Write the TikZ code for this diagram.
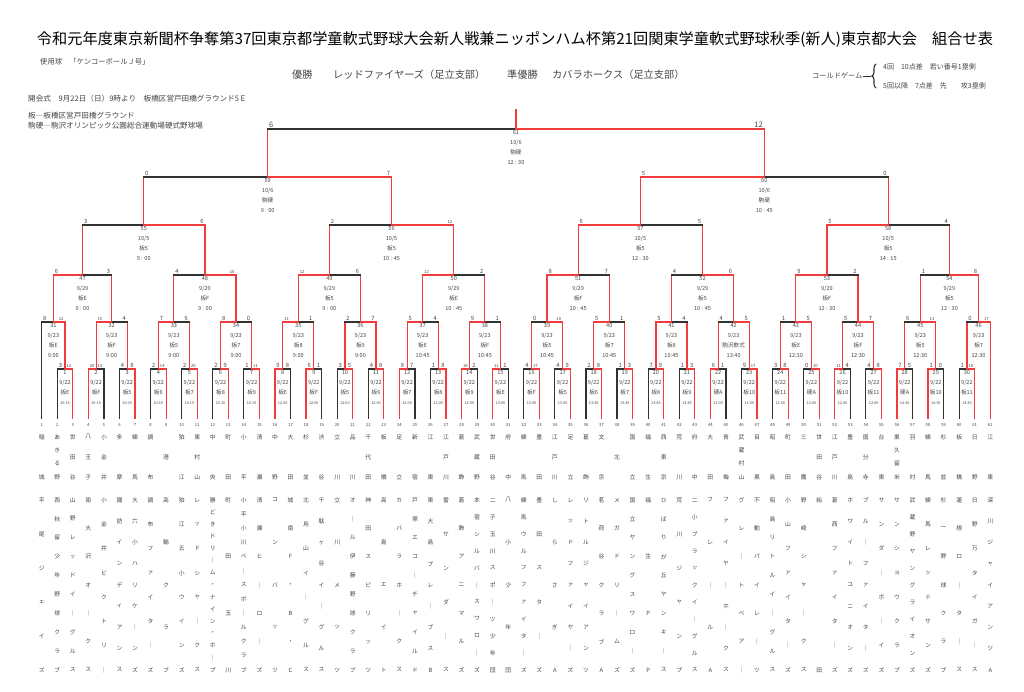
\documentclass[tikz,border=0pt]{standalone}
\usepackage{fontspec}
\setmainfont{Noto Sans CJK JP}
\usetikzlibrary{calc,decorations.pathreplacing}

\definecolor{winred}{RGB}{240,60,60}
\definecolor{loseblk}{RGB}{50,50,50}
\definecolor{txtgray}{RGB}{70,70,70}

\tikzset{
  barline/.style={line width=1.2pt, line cap=rect},
  score/.style={font=\fontsize{5.8}{6}\selectfont, text=txtgray, inner sep=1.3pt},
  info/.style={font=\fontsize{5.6}{10}\selectfont, text=txtgray, align=center, inner sep=0pt},
  tnum/.style={font=\fontsize{4.2}{4.2}\selectfont, text=txtgray, inner sep=0pt},
  tchar/.style={font=\fontsize{5.8}{5.8}\selectfont, text=txtgray, inner sep=0pt},
  note/.style={font=\fontsize{7.6}{8}\selectfont, text=txtgray, anchor=west, inner sep=0pt},
}

\newcommand{\scorefmt}[1]{\ifnum#1>9 {\fontsize{4.2}{4.2}\selectfont#1}\else#1\fi}
\newcommand{\tinytime}[1]{{\fontsize{3.8}{10}\selectfont#1}}

% one game: id, left, right, level, left score, right score, left leaf?, right leaf?
\newcommand{\bout}[8]{%
  \coordinate (m#1) at ($(#2)!0.5!(#3)$);
  \coordinate (g#1) at (m#1 |- 0,#4);
  \ifnum#5>#6\relax\def\lcol{winred}\def\rcol{loseblk}\else\def\lcol{loseblk}\def\rcol{winred}\fi
  \ifnum#7=1\relax\let\lvcol\lcol\else\def\lvcol{winred}\fi
  \ifnum#8=1\relax\let\rvcol\rcol\else\def\rvcol{winred}\fi
  \draw[barline, draw=\lvcol] (#2) -- (#2 |- g#1);
  \draw[barline, draw=\rvcol] (#3) -- (#3 |- g#1);
  \draw[barline, draw=\lcol] (#2 |- g#1) -- (g#1);
  \draw[barline, draw=\rcol] (g#1) -- (#3 |- g#1);
  \node[score, anchor=south west] at (#2 |- g#1) {\scorefmt{#5}};
  \node[score, anchor=south east] at (#3 |- g#1) {\scorefmt{#6}};
}

% one team column: number, district, team name
\newcommand{\team}[3]{%
  \node[tnum] (n#1) at (t#1 |- 0,425) {#1};
  \foreach \ch [count=\idx] in {#2} {\xdef\dcnt{\idx}}
  \foreach \ch [count=\idx] in {#2} {%
    \ifnum\dcnt=1 \pgfmathsetmacro\yy{457}\else\pgfmathsetmacro\yy{437+(\idx-1)*40/(\dcnt-1)}\fi
    \node[tchar] at (t#1 |- 0,\yy) {\ch};}
  \foreach \ch [count=\idx] in {#3} {\xdef\ncnt{\idx}}
  \foreach \ch [count=\idx] in {#3} {%
    \pgfmathsetmacro\yy{500+(\idx-1)*170/(\ncnt-1)}
    \node[tchar] at (t#1 |- 0,\yy) {\ch};}
}

\begin{document}
\begin{tikzpicture}[x=1pt,y=-1pt]
  \fill[white] (0,0) rectangle (1024,692);
  \useasboundingbox (0,0) rectangle (1024,692);

  % header
  \node[font=\fontsize{15.2}{18}\selectfont] (title) at (515,40)
    {令和元年度東京新聞杯争奪第37回東京都学童軟式野球大会新人戦兼ニッポンハム杯第21回関東学童軟式野球秋季(新人)東京都大会　組合せ表};
  \node[note, font=\fontsize{7.3}{8}\selectfont] (ball) at (40,62) {使用球\quad「ケンコーボールＪ号」};
  \node[note, font=\fontsize{10.2}{12}\selectfont] (win) at (292,75) {優勝};
  \node[note, font=\fontsize{10.2}{12}\selectfont] (winteam) at (333,75) {レッドファイヤーズ（足立支部）};
  \node[note, font=\fontsize{10.2}{12}\selectfont] (second) at (507,75) {準優勝};
  \node[note, font=\fontsize{10.2}{12}\selectfont] (secondteam) at (552,75) {カバラホークス（足立支部）};
  \node[note, font=\fontsize{7.2}{8}\selectfont] (cold) at (812,76) {コールドゲーム};
  \coordinate (bracetip) at (871,76);
  \draw[loseblk, line width=0.6pt] (cold.east) -- (bracetip);
  \draw[loseblk, line width=1.1pt, decorate, decoration={brace, amplitude=4pt}] (876,88) -- (876,64);
  \node[note, font=\fontsize{7}{8}\selectfont] (rule1) at (883,67) {4回　10点差　若い番号1塁側};
  \node[note, font=\fontsize{7}{8}\selectfont] (rule2) at (883,86) {5回以降　7点差　先　　攻3塁側};
  \node[note] (open) at (28,99) {開会式　9月22日（日）9時より　板橋区営戸田橋グラウンド5Ｅ};
  \node[note] (ita) at (28,116) {板―板橋区営戸田橋グラウンド};
  \node[note] (koma) at (28,126) {駒硬―駒沢オリンピック公園総合運動場硬式野球場};

  % team feet
  \foreach \i in {1,...,62} \coordinate (t\i) at ({41.7+(\i-1)*15.55},418);

  % 1st round
  \foreach \gm/\ls/\rs/\ven/\tim in {
    1/3/12/板E/10:15, 2/20/10/板F/10:15, 3/4/8/板5/10:15, 4/2/14/板6/10:15,
    5/2/25/板7/10:15, 6/2/9/板8/10:15, 7/1/11/板9/10:15, 8/9/8/板E/12:00,
    9/6/1/板F/12:00, 10/3/5/板5/12:00, 11/4/8/板6/12:00, 12/8/7/板7/12:00,
    13/1/8/板8/12:00, 14/18/2/板9/12:00, 15/11/1/板E/13:45, 16/4/17/板F/13:45,
    17/4/9/板5/13:45, 18/2/8/板6/13:45, 19/1/3/板7/13:45, 20/7/9/板8/13:45,
    21/1/3/板9/13:45, 22/6/1/硬A/11:00, 23/9/17/板10/11:00, 24/3/8/板11/11:00,
    25/0/10/硬A/12:45, 26/11/4/板10/12:45, 27/4/8/板11/12:45, 28/7/5/硬A/14:30,
    29/1/0/板10/14:30, 30/1/18/板11/14:30} {
    \pgfmathtruncatemacro\ta{2*\gm}\pgfmathtruncatemacro\tb{2*\gm+1}
    \bout{\gm}{t\ta}{t\tb}{369}{\ls}{\rs}{1}{1}
    \node[info, below=1pt] at (g\gm) {\gm\\9/22\\\ven\\\tinytime{\tim}};
  }

  % 2nd round
  \foreach \gm/\lt/\rt/\ls/\rs/\lf/\rf/\ven/\tim in {
    31/t1/g1/8/12/1/0/板E/9:00, 32/g2/g3/15/4/0/0/板F/9:00,
    33/g4/g5/7/6/0/0/板5/9:00, 34/g6/g7/8/0/0/0/板7/9:00,
    35/g8/g9/11/1/0/0/板8/9:00, 36/g10/g11/2/7/0/0/板9/9:00,
    37/g12/g13/5/4/0/0/板E/10:45, 38/g14/g15/9/1/0/0/板F/10:45,
    39/g16/g17/0/10/0/0/板5/10:45, 40/g18/g19/5/1/0/0/板7/10:45,
    41/g20/g21/5/4/0/0/板8/10:45, 42/g22/g23/4/5/0/0/駒沢軟式/13:40,
    43/g24/g25/1/5/0/0/板E/12:30, 44/g26/g27/5/7/0/0/板F/12:30,
    45/g28/g29/6/13/0/0/板5/12:30, 46/g30/t62/0/17/0/1/板7/12:30} {
    \bout{\gm}{\lt}{\rt}{322}{\ls}{\rs}{\lf}{\rf}
    \node[info, below=1pt] at (g\gm) {\gm\\9/23\\\ven\\\tim};
  }

  % 3rd round to semifinals
  \foreach \gm/\lt/\rt/\ls/\rs/\lev/\dat/\ven/\tim in {
    47/g31/g32/6/3/275/{9/29}/板E/9 : 00, 48/g33/g34/4/10/275/{9/29}/板F/9 : 00,
    49/g35/g36/12/6/275/{9/29}/板5/9 : 00, 50/g37/g38/12/2/275/{9/29}/板E/10 : 45,
    51/g39/g40/8/7/275/{9/29}/板F/10 : 45, 52/g41/g42/4/6/275/{9/29}/板5/10 : 45,
    53/g43/g44/9/2/275/{9/29}/板F/12 : 30, 54/g45/g46/1/8/275/{9/29}/板5/12 : 30,
    55/g47/g48/3/6/225/{10/5}/板5/9 : 00, 56/g49/g50/2/12/225/{10/5}/板5/10 : 45,
    57/g51/g52/6/5/225/{10/5}/板5/12 : 30, 58/g53/g54/5/4/225/{10/5}/板5/14 : 15,
    59/g55/g56/0/7/177/{10/6}/駒硬/9 : 00, 60/g57/g58/5/0/177/{10/6}/駒硬/10 : 45} {
    \bout{\gm}{\lt}{\rt}{\lev}{\ls}{\rs}{0}{0}
    \node[info, below=1pt] at (g\gm) {\gm\\\dat\\\ven\\\tim};
  }

  % final
  \begin{scope}[score/.append style={font=\fontsize{7.5}{8}\selectfont}]
    \renewcommand{\scorefmt}[1]{#1}
    \bout{61}{g59}{g60}{129}{6}{12}{0}{0}
  \end{scope}
  \node[info, below=1pt] at (g61) {61\\10/6\\駒硬\\12 : 30};
  \draw[barline, draw=winred] (g61) -- (g61 |- 0,110);

  % teams
  \team{1}{稲,城}{平,尾,ジ,ェ,イ,ズ}
  \team{2}{あ,き,る,野}{西,秋,留,少,年,野,球,ク,ラ,ブ}
  \team{3}{世,田,谷}{山,野,レ,ッ,ド,イ,｜,グ,ル,ス}
  \team{4}{八,王,子}{南,大,沢,オ,｜,ク,ス}
  \team{5}{小,金,井}{小,金,井,ビ,ク,ト,リ,｜}
  \team{6}{多,摩}{諏,訪,イ,ン,デ,ィ,ア,ン,ス}
  \team{7}{練,馬}{大,六,小,ハ,リ,ケ,｜,ン,ズ}
  \team{8}{調,布}{調,布,フ,ァ,イ,タ,｜,ズ}
  \team{9}{港}{高,輪,ク,ラ,ブ}
  \team{10}{狛,江}{狛,江,五,小,ウ,イ,ン,ズ}
  \team{11}{東,村,山}{レ,ッ,ド,シ,ャ,｜,ク,ス}
  \team{12}{中,央}{勝,ど,き,ド,リ,｜,ム,・,ナ,イ,ン,・,ホ,｜,プ}
  \team{13}{町,田}{町,田,玉,川}
  \team{14}{小,平}{小,平,小,川,ベ,｜,ス,ボ,｜,ル,ク,ラ,ブ}
  \team{15}{清,瀬}{清,瀬,ヒ,｜,ロ,｜,ズ}
  \team{16}{中,野}{コ,ン,バ,ッ,ツ}
  \team{17}{大,田}{城,南,F,・,B,・,C}
  \team{18}{杉,並}{北,烏,山,イ,｜,グ,ル,ス}
  \team{19}{渋,谷}{千,駄,ヶ,谷,イ,｜,グ,ル,ス}
  \team{20}{立,川}{立,川,メ,ッ,ツ}
  \team{21}{品,川}{オ,｜,ル,伊,藤,野,球,ク,ラ,ブ}
  \team{22}{千,代,田}{神,田,ス,ピ,リ,ッ,ツ}
  \team{23}{板,橋}{高,島,エ,イ,ト}
  \team{24}{足,立}{カ,バ,ラ,ホ,｜,ク,ス}
  \team{25}{新,宿}{戸,塚,エ,コ,｜,チ,ャ,イ,ル,ド}
  \team{26}{江,東}{東,大,島,ブ,レ,｜,ブ,ス,B}
  \team{27}{江,戸,川}{雷,サ,ン,ダ,｜,ス}
  \team{28}{葛,飾}{葛,飾,ア,ニ,マ,ル,ズ}
  \team{29}{武,蔵,野}{本,宿,シ,ル,バ,｜,ス,ワ,ロ,｜,ズ}
  \team{30}{世,田,谷}{二,子,玉,川,ス,ポ,｜,ツ,少,年,団}
  \team{31}{府,中}{八,小,少,年,団}
  \team{32}{練,馬}{練,馬,ウ,ル,フ,フ,ァ,イ,タ,｜,ズ}
  \team{33}{墨,田}{墨,田,ス,タ,｜,ズ}
  \team{34}{江,戸,川}{し,ら,さ,ぎ,A}
  \team{35}{足,立}{レ,ッ,ド,フ,ァ,イ,ヤ,｜,ズ}
  \team{36}{葛,飾}{リ,ト,ル,ジ,ャ,イ,ア,ン,ツ}
  \team{37}{文,京}{茗,荷,谷,ク,ラ,ブ,A}
  \team{38}{北}{メ,ガ,ド,リ,｜,ム,ズ}
  \team{39}{国,立}{国,立,ヤ,ン,グ,ス,ワ,ロ,｜,ズ}
  \team{40}{福,生}{福,生,P,P}
  \team{41}{西,東,京}{ひ,ば,り,が,丘,ヤ,ン,キ,｜,ス}
  \team{42}{荒,川}{荒,川,ジ,ャ,ン,プ}
  \team{43}{府,中}{二,小,ブ,ラ,ッ,ク,イ,｜,グ,ル,ス}
  \team{44}{大,田}{フ,レ,｜,ル,A}
  \team{45}{青,梅}{フ,ァ,イ,ヤ,｜,ホ,｜,ク,ス}
  \team{46}{武,蔵,村,山}{グ,レ,｜,ト,ベ,ア,｜}
  \team{47}{目,黒}{不,動,パ,イ,レ,｜,ツ}
  \team{48}{昭,島}{昭,島,リ,ト,ル,イ,｜,グ,ル,ス}
  \team{49}{町,田}{小,山,フ,ァ,イ,タ,｜,ズ}
  \team{50}{三,鷹}{野,崎,シ,ャ,｜,ク,ス}
  \team{51}{世,田,谷}{給,田}
  \team{52}{江,戸,川}{葛,西,フ,ァ,イ,タ,｜,ズ}
  \team{53}{豊,島}{ホ,ワ,イ,ト,ユ,ニ,オ,ン,ズ}
  \team{54}{国,分,寺}{ブ,ル,｜,フ,ァ,イ,タ,｜,ズ}
  \team{55}{台,東}{サ,ン,ダ,｜,ボ,｜,イ,ズ}
  \team{56}{東,久,留,米}{サ,ン,シ,ョ,ウ,ク,ラ,ブ}
  \team{57}{羽,村}{武,蔵,野,ヤ,ン,グ,ラ,イ,オ,ン,ズ}
  \team{58}{練,馬}{練,馬,レ,ッ,ド,サ,ン,ズ}
  \team{59}{杉,並}{杉,一,野,球,ク,ラ,ブ}
  \team{60}{板,橋}{蓮,根,ロ,｜,タ,｜,ス}
  \team{61}{日,野}{日,野,万,タ,イ,ガ,｜,ス}
  \team{62}{江,東}{深,川,ジ,ャ,イ,ア,ン,ツ,A}
\end{tikzpicture}
\end{document}
